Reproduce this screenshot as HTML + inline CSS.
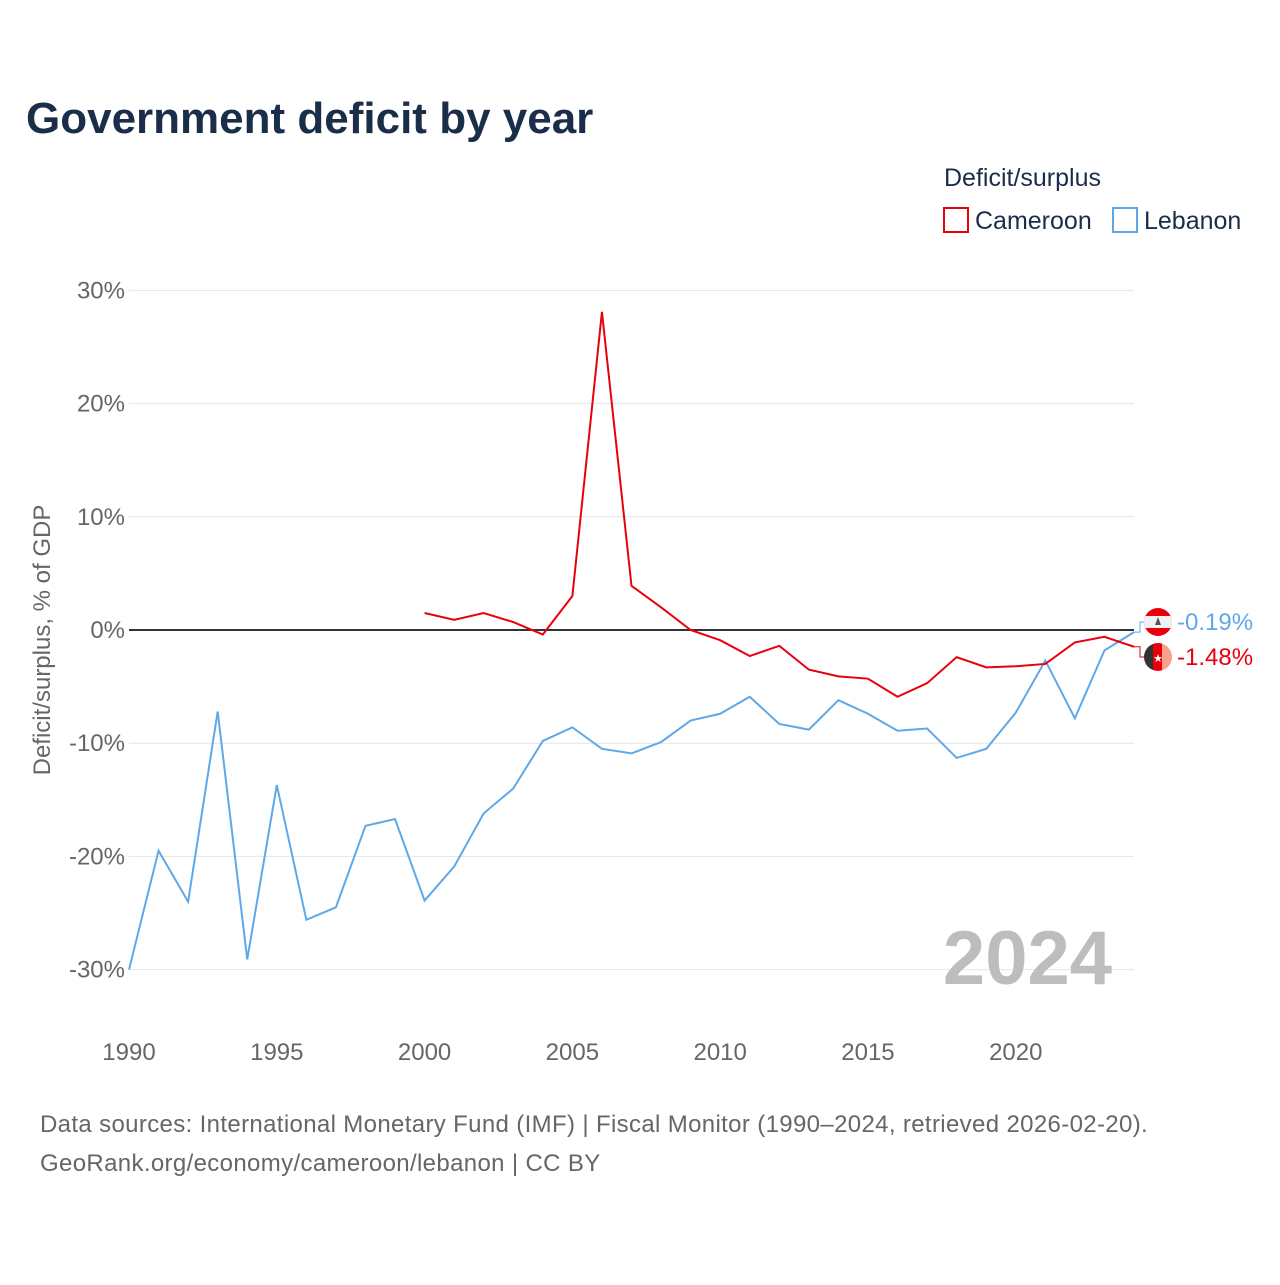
<!DOCTYPE html>
<html><head><meta charset="utf-8"><style>
body{margin:0;background:#fff;font-family:"Liberation Sans",sans-serif}
svg text{font-family:"Liberation Sans",sans-serif}
</style></head><body>
<svg width="1280" height="1280" viewBox="0 0 1280 1280">
<defs>
<clipPath id="c1"><circle cx="1158" cy="622" r="14"/></clipPath>
<clipPath id="c2"><circle cx="1158" cy="657" r="14"/></clipPath>
</defs>
<text x="26" y="133" font-size="44" font-weight="bold" fill="#1a2e4a">Government deficit by year</text>
<text x="944" y="186" font-size="25" fill="#1a2e4a">Deficit/surplus</text>
<g><rect x="944" y="208" width="24" height="24" fill="none" stroke="#e8000b" stroke-width="2"/><text x="975" y="229" font-size="25" fill="#1a2e4a">Cameroon</text></g>
<g><rect x="1113" y="208" width="24" height="24" fill="none" stroke="#5fa8e8" stroke-width="2"/><text x="1144" y="229" font-size="25" fill="#1a2e4a">Lebanon</text></g>
<g id="grid"></g><g id="yt"></g><g id="xt"></g><g id="lines"></g>
<g clip-path="url(#c1)"><rect x="1144" y="608" width="28" height="28" fill="#e8000b"/><rect x="1144" y="616" width="28" height="12" fill="#f2f2f2"/><path d="M1158 617 l-3 8 h6z" fill="#555"/></g>
<g clip-path="url(#c2)"><rect x="1144" y="643" width="10" height="28" fill="#333"/><rect x="1153" y="643" width="10" height="28" fill="#e8000b"/><rect x="1162" y="643" width="10" height="28" fill="#f7a08a"/><text x="1158" y="662" font-size="11" fill="#fff" text-anchor="middle">★</text></g>
<text transform="translate(50,640) rotate(-90)" text-anchor="middle" font-size="24" fill="#666">Deficit/surplus, % of GDP</text>
<text x="1112" y="984" text-anchor="end" font-size="76" font-weight="bold" fill="#bdbdbd">2024</text>
<text x="40" y="1132" font-size="24" fill="#666" letter-spacing="0.35">Data sources: International Monetary Fund (IMF) | Fiscal Monitor (1990–2024, retrieved 2026-02-20).</text>
<text x="40" y="1171" font-size="24" fill="#666" letter-spacing="0.35">GeoRank.org/economy/cameroon/lebanon | CC BY</text>
</svg>
<script>
const yearsLeb=[1990,1991,1992,1993,1994,1995,1996,1997,1998,1999,2000,2001,2002,2003,2004,2005,2006,2007,2008,2009,2010,2011,2012,2013,2014,2015,2016,2017,2018,2019,2020,2021,2022,2023,2024];
const lebanon=[-30.0,-19.5,-24.0,-7.2,-29.1,-13.7,-25.6,-24.5,-17.3,-16.7,-23.9,-20.9,-16.2,-14.0,-9.8,-8.6,-10.5,-10.9,-9.9,-8.0,-7.4,-5.9,-8.3,-8.8,-6.2,-7.4,-8.9,-8.7,-11.3,-10.5,-7.3,-2.7,-7.8,-1.8,-0.19];
const yearsCam=[2000,2001,2002,2003,2004,2005,2006,2007,2008,2009,2010,2011,2012,2013,2014,2015,2016,2017,2018,2019,2020,2021,2022,2023,2024];
const cameroon=[1.5,0.9,1.5,0.7,-0.4,3.0,28.1,3.9,2.0,0.0,-0.9,-2.3,-1.4,-3.5,-4.1,-4.3,-5.9,-4.7,-2.4,-3.3,-3.2,-3.0,-1.1,-0.6,-1.48];
const yTicks=[30,20,10,0,-10,-20,-30];
const xTicks=[1990,1995,2000,2005,2010,2015,2020];
const X=y=>129+(y-1990)*(1134-129)/34;
const Y=v=>630-v*11.32;
const NS="http://www.w3.org/2000/svg";
function mk(t,a,p){const e=document.createElementNS(NS,t);for(const k in a)e.setAttribute(k,a[k]);document.getElementById(p).appendChild(e);return e;}
yTicks.forEach(v=>{
 const l=mk('line',{x1:129,x2:1134,y1:Y(v),y2:Y(v),stroke:v===0?'#333':'#e6e6e6','stroke-width':v===0?2:1},'grid');
 
 
 const t=mk('text',{x:125,y:Y(v)+8,'text-anchor':'end','font-size':24,fill:'#666'},'yt');t.textContent=v+'%';
 
 
});
xTicks.forEach(v=>{
 const t=mk('text',{x:X(v),y:1060,'text-anchor':'middle','font-size':24,fill:'#666'},'xt');t.textContent=v;
 
 
});
function line(ys,vs,c,n){
 const p=mk('polyline',{points:ys.map((y,i)=>X(y)+','+Y(vs[i])).join(' '),fill:'none',stroke:c,'stroke-width':2},'lines');
 
 
}
line(yearsLeb,lebanon,'#5fa8e8','lebanon-line');
line(yearsCam,cameroon,'#e8000b','cameroon-line');
function end(v,c,cy,n){
 const g=mk('g',{},'lines');
 
 
 const ex=X(2024),ey=Y(v);
 const pl=document.createElementNS(NS,'polyline');
 pl.setAttribute('points',ex+','+ey+' '+(ex+6)+','+ey+' '+(ex+6)+','+cy+' '+(ex+10)+','+cy);
 pl.setAttribute('fill','none');pl.setAttribute('stroke',c);g.appendChild(pl);
 const t=document.createElementNS(NS,'text');t.setAttribute('x',1177);t.setAttribute('y',cy+8);t.setAttribute('font-size',24);t.setAttribute('fill',c);t.textContent=v.toFixed(2)+'%';g.appendChild(t);
}
end(lebanon[lebanon.length-1],'#5fa8e8',622,'lebanon-end-label');
end(cameroon[cameroon.length-1],'#e8000b',657,'cameroon-end-label');
</script>
</body></html>
